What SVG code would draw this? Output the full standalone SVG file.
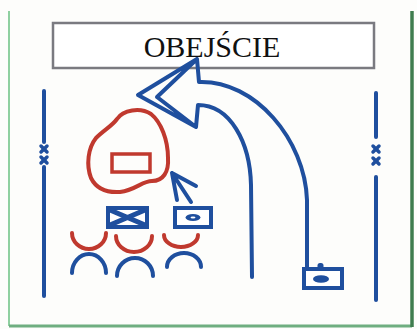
<svg xmlns="http://www.w3.org/2000/svg" width="417" height="329" viewBox="0 0 417 329">
<style>
.b{fill:none;stroke:#1f4f9e;stroke-width:4;stroke-linecap:round;stroke-linejoin:round}
.r{fill:none;stroke:#c0392e;stroke-width:4;stroke-linecap:round;stroke-linejoin:round}
.x{stroke:#1f4f9e;stroke-width:3.5;stroke-linecap:round}
</style>
<rect width="417" height="329" fill="#fdfdfb"/>
<g id="frame">
<line x1="9" y1="11" x2="9" y2="326" stroke="#8fd0a0" stroke-width="2"/>
<line x1="9" y1="326" x2="412" y2="326" stroke="#6fae80" stroke-width="3"/>
<line x1="412" y1="11" x2="412" y2="327" stroke="#3f7d4f" stroke-width="3.5"/>
</g>
<g id="title">
<rect x="53" y="23" width="321" height="45" fill="#fff" stroke="#7a7a80" stroke-width="2.5"/>
<text x="212" y="57" font-family="Liberation Serif, serif" font-size="30" text-anchor="middle" fill="#111">OBEJŚCIE</text>
</g>
<g id="sideline-left">
<line class="b" x1="44" y1="91" x2="44" y2="142"/>
<line class="x" x1="41" y1="146" x2="47" y2="152"/><line class="x" x1="47" y1="146" x2="41" y2="152"/>
<line class="x" x1="41" y1="157" x2="47" y2="163"/><line class="x" x1="47" y1="157" x2="41" y2="163"/>
<line class="b" x1="44" y1="167" x2="44" y2="296"/>
</g>
<g id="sideline-right">
<line class="b" x1="376" y1="93" x2="376" y2="137"/>
<line class="x" x1="373" y1="146" x2="379" y2="152"/><line class="x" x1="379" y1="146" x2="373" y2="152"/>
<line class="x" x1="373" y1="158" x2="379" y2="164"/><line class="x" x1="379" y1="158" x2="373" y2="164"/>
<line class="b" x1="376" y1="177" x2="376" y2="300"/>
</g>
<g id="zone">
<path class="r" d="M117,119 C123,110 140,107 151,114 C161,122 168,140 168,158 C169,172 163,181 152,181 C142,181 136,190 120,192 C105,193 96,188 91,178 C86,165 88,148 96,138 C104,130 112,126 117,119 Z"/>
<rect x="112" y="154" width="38" height="18" fill="none" stroke="#c0392e" stroke-width="3.5"/>
</g>
<g id="player-x">
<rect x="108" y="208" width="39" height="19" fill="#fff" stroke="#1f4f9e" stroke-width="4"/>
<path d="M110,210 L145,225 M145,210 L110,225" stroke="#1f4f9e" stroke-width="5"/>
</g>
<g id="player-o">
<rect x="175" y="208" width="36" height="19" fill="#fff" stroke="#1f4f9e" stroke-width="4"/>
<ellipse cx="193" cy="217.5" rx="7.5" ry="3.5" fill="#1f4f9e"/>
<ellipse cx="193" cy="217.5" rx="2.5" ry="1" fill="#fff"/>
</g>
<g id="ball-carrier">
<rect x="304" y="269" width="38" height="19" fill="#fff" stroke="#1f4f9e" stroke-width="4"/>
<ellipse cx="321" cy="279" rx="8" ry="3.8" fill="#1f4f9e"/>
<rect x="317.5" y="263" width="6" height="6" rx="2.5" fill="#1f4f9e"/>
</g>
<g id="defenders">
<path class="r" d="M72,233 A17,16 0 0 0 106,233"/>
<path class="r" d="M116,236 A18,16 0 0 0 152,236"/>
<path class="r" d="M164,235 A17,12 0 0 0 198,235"/>
</g>
<g id="attackers">
<path class="b" d="M72,273 A17,19 0 0 1 106,273"/>
<path class="b" d="M117,276 A18,18 0 0 1 153,276"/>
<path class="b" d="M167,267 A17,14 0 0 1 201,267"/>
</g>
<g id="connectors">
<path class="b" d="M197,59 L138,95 L196,127 M197,59 L157,97 L196,127 M197,59 L199,82 C255,80 305,140 307,200 L307,268 M196,127 L198,105 C230,105 250,142 251,185 L252,277"/>
<path class="b" d="M191,202 L172,173 M177,200 L172,173 L196,186"/>
</g>
</svg>
